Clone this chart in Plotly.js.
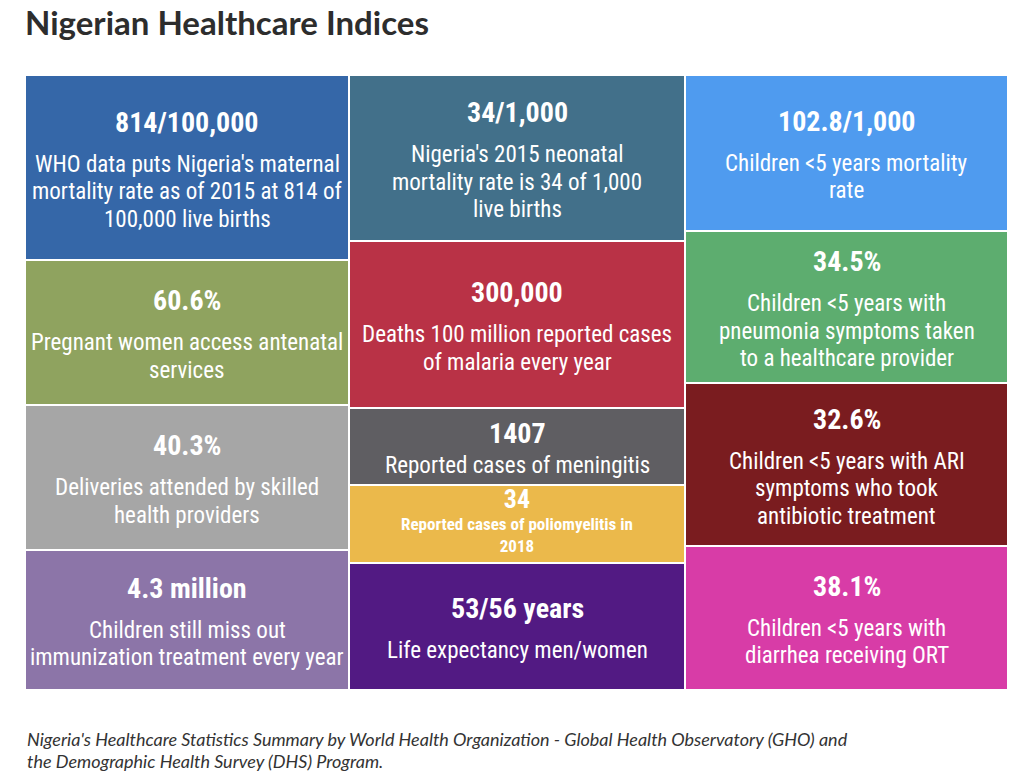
<!DOCTYPE html>
<html>
<head>
<meta charset="utf-8">
<script src="https://cdn.plot.ly/plotly-3.0.1.min.js"></script>
<style>html,body{margin:0;padding:0;background:#fff;}#chart{width:1024px;height:778px;}</style>
</head>
<body>
<div id="chart"></div>
<script>
// ---- data ----
const headlines = [
  '814/100,000', '60.6%', '40.3%', '4.3 million',
  '34/1,000', '300,000', '1407', '34', '53/56 years',
  '102.8/1,000', '34.5%', '32.6%', '38.1%'
];
const descriptions = [
  ["WHO data puts Nigeria's maternal", "mortality rate as of 2015 at 814 of", "100,000 live births"],
  ["Pregnant women access antenatal", "services"],
  ["Deliveries attended by skilled", "health providers"],
  ["Children still miss out", "immunization treatment every year"],
  ["Nigeria's 2015 neonatal", "mortality rate is 34 of 1,000", "live births"],
  ["Deaths 100 million reported cases", "of malaria every year"],
  ["Reported cases of meningitis"],
  ["Reported cases of poliomyelitis in", "2018"],
  ["Life expectancy men/women"],
  ["Children <5 years mortality", "rate"],
  ["Children <5 years with", "pneumonia symptoms taken", "to a healthcare provider"],
  ["Children <5 years with ARI", "symptoms who took", "antibiotic treatment"],
  ["Children <5 years with", "diarrhea receiving ORT"]
];
const tileColumn = [0,0,0,0, 1,1,1,1,1, 2,2,2,2];
const tileSizes  = [185,145,145,140, 166,167,77,78,127, 156,152,163,144];
const columnSizes = [324, 336, 323];
const tileColors = [
  '#3567a8', '#8fa35f', '#a6a6a6', '#8c75a8',
  '#42708a', '#b93246', '#5f5e62', '#ebb94b', '#521a83',
  '#4f9bef', '#5dad6f', '#7a1c1f', '#d83ca7'
];
const smallTile = [false,false,false,false, false,false,false,true,false, false,false,false,false];
const titleText = 'Nigerian Healthcare Indices';
const sourceLines = [
  "Nigeria's Healthcare Statistics Summary by World Health Organization - Global Health Observatory (GHO) and",
  "the Demographic Health Survey (DHS) Program."
];

// ---- derived geometry (through axes) ----
const colStart = [];
let acc = 0;
columnSizes.forEach(w => { colStart.push(acc); acc += w; });
const totalWidth = acc;
const colFill = [0,0,0];
const xs = [], bases = [], widths = [];
tileColumn.forEach((c, i) => {
  xs.push(colStart[c] + columnSizes[c] / 2);
  widths.push(columnSizes[c]);
  bases.push(colFill[c]);
  colFill[c] += tileSizes[i];
});
const totalHeight = Math.max(...colFill);

const tileFont = 'Roboto Condensed, Liberation Sans Narrow, Roboto, sans-serif';
const annotations = [];
const drop = 3;
headlines.forEach((h, i) => {
  const lines = descriptions[i];
  const yc = bases[i] + tileSizes[i] / 2;
  if (smallTile[i]) {
    // tight tile: headline and body in one text block
    annotations.push({
      x: xs[i], y: yc, xref: 'x', yref: 'y',
      text: '<b><span style="font-size:26px">' + h + '</span><br>' + lines.join('<br>') + '</b>',
      showarrow: false, align: 'center',
      xanchor: 'center', yanchor: 'middle', yshift: 4,
      font: {family: tileFont, size: 17, color: '#ffffff'}
    });
    return;
  }
  const bodySize = 23, headSize = 28, lh = 27.5;
  const n = lines.length;
  const gap = Math.min(42, 0.65 * (tileSizes[i] - n * lh));
  const span = gap + (n - 1) * lh;
  annotations.push({
    x: xs[i], y: yc, xref: 'x', yref: 'y',
    text: '<b>' + h + '</b>', showarrow: false,
    xanchor: 'center', yanchor: 'middle',
    yshift: span / 2 - drop,
    font: {family: tileFont, size: headSize, color: '#ffffff'}
  });
  lines.forEach((line, k) => {
    annotations.push({
      x: xs[i], y: yc, xref: 'x', yref: 'y',
      text: line, showarrow: false, align: 'center',
      xanchor: 'center', yanchor: 'middle',
      yshift: span / 2 - gap - k * lh - drop,
      font: {family: tileFont, size: bodySize, color: '#ffffff'}
    });
  });
});

sourceLines.forEach((line, k) => {
  annotations.push({
    xref: 'paper', yref: 'paper', x: 0, y: 0, xanchor: 'left', yanchor: 'middle',
    yshift: -49 - k * 22, align: 'left', showarrow: false,
    text: '<i>' + line + '</i>',
    font: {family: 'Lato, Open Sans, sans-serif', size: 18, color: '#333333'}
  });
});

const trace = {
  type: 'bar',
  x: xs, y: tileSizes, base: bases, width: widths,
  marker: {color: tileColors, line: {color: '#ffffff', width: 2}},
  hoverinfo: 'skip', textposition: 'none', showlegend: false
};

const layout = {
  width: 1024, height: 778,
  margin: {l: 25, r: 16, t: 75, b: 88},
  paper_bgcolor: '#ffffff', plot_bgcolor: '#ffffff',
  barmode: 'overlay',
  title: {
    text: '<b>' + titleText + '</b>',
    xref: 'container', yref: 'container', x: 25 / 1024, xanchor: 'left',
    y: 1 - 23 / 778, yanchor: 'middle',
    font: {family: 'Lato, Open Sans, sans-serif', size: 33, color: '#2d2d2d'}
  },
  xaxis: {range: [0, totalWidth], visible: false, fixedrange: true},
  yaxis: {range: [totalHeight, 0], visible: false, fixedrange: true},
  annotations: annotations
};

Plotly.newPlot('chart', [trace], layout, {displayModeBar: false, staticPlot: true});
</script>
</body>
</html>
